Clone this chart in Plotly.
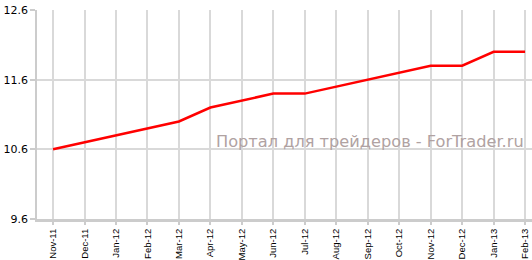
import plotly.graph_objects as go

months = ["Nov-11", "Dec-11", "Jan-12", "Feb-12", "Mar-12", "Apr-12", "May-12", "Jun-12",
          "Jul-12", "Aug-12", "Sep-12", "Oct-12", "Nov-12", "Dec-12", "Jan-13", "Feb-13"]
values = [10.6, 10.7, 10.8, 10.9, 11.0, 11.2, 11.3, 11.4,
          11.4, 11.5, 11.6, 11.7, 11.8, 11.8, 12.0, 12.0]
y_ticks = [9.6, 10.6, 11.6, 12.6]
watermark = "Портал для трейдеров - ForTrader.ru"

fig = go.Figure()
fig.add_trace(go.Scatter(x=months, y=values, mode="lines",
                         line=dict(color="#ff0000", width=2.5), hoverinfo="skip"))

fig.add_annotation(text=watermark, xref="paper", yref="paper", x=0.988, y=0.373,
                   xanchor="right", yanchor="middle", showarrow=False,
                   font=dict(family="DejaVu Sans", size=16.2, color="#b0a2a2"))

fig.update_layout(
    width=532, height=260,
    margin=dict(l=37, r=0, t=10, b=41),
    paper_bgcolor="white", plot_bgcolor="white",
    showlegend=False,
    font=dict(family="DejaVu Sans", color="#000000"),
)
fig.update_xaxes(type="category", range=[-0.51, 15.22], automargin=False,
                 tickangle=-90, tickfont=dict(family="Liberation Sans", size=9.5),
                 showgrid=True, gridcolor="#d9d9d9", gridwidth=1.5,
                 showline=True, linecolor="#cccccc", linewidth=3,
                 ticks="outside", ticklen=3, tickcolor="#cccccc", tickwidth=1.5,
                 zeroline=False)
fig.update_yaxes(range=[9.6, 12.6], tickvals=y_ticks, ticktext=[f"{v:.1f}" for v in y_ticks],
                 tickfont=dict(size=11), automargin=False,
                 showgrid=True, gridcolor="#d9d9d9", gridwidth=1.5,
                 showline=True, linecolor="#cccccc", linewidth=1.5,
                 ticks="outside", ticklen=5, tickcolor="#cccccc", tickwidth=1.5,
                 zeroline=False)

fig.write_html("out.html")
